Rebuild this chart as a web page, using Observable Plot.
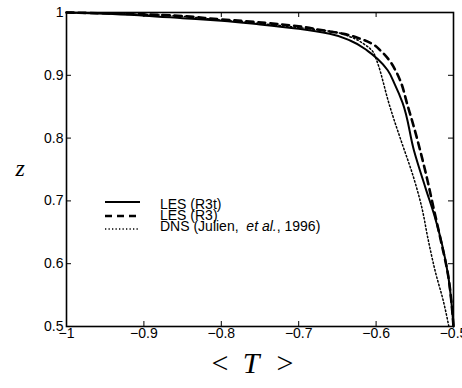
<!DOCTYPE html>
<html>
<head>
<meta charset="utf-8">
<script src="https://cdn.jsdelivr.net/npm/d3@7"></script>
<script src="https://cdn.jsdelivr.net/npm/@observablehq/plot@0.6"></script>
<style>
  html, body { margin: 0; padding: 0; background: #fff; }
  svg { display: block; }
</style>
</head>
<body>
<div id="chart"></div>
<script>
// ---- data ----
const lesR3tT = [-1, -0.95, -0.9, -0.85, -0.8, -0.75, -0.7, -0.66, -0.633, -0.611, -0.598, -0.585, -0.576, -0.566, -0.551, -0.536, -0.524, -0.515, -0.507, -0.502, -0.5];
const lesR3tZ = [1, 0.998, 0.995, 0.991, 0.987, 0.981, 0.974, 0.966, 0.955, 0.939, 0.926, 0.908, 0.886, 0.857, 0.78, 0.72, 0.674, 0.632, 0.582, 0.53, 0.5];

const lesR3T = [-1, -0.9, -0.8, -0.7, -0.671, -0.642, -0.62, -0.605, -0.594, -0.583, -0.575, -0.568, -0.56, -0.551, -0.543, -0.535, -0.526, -0.516, -0.507, -0.502, -0.5];
const lesR3Z = [1, 0.997, 0.989, 0.978, 0.972, 0.966, 0.958, 0.95, 0.939, 0.924, 0.908, 0.889, 0.855, 0.817, 0.78, 0.74, 0.69, 0.635, 0.582, 0.53, 0.5];

const dnsT = [-1, -0.9, -0.8, -0.7, -0.654, -0.633, -0.616, -0.605, -0.6, -0.596, -0.591, -0.585, -0.577, -0.568, -0.551, -0.541, -0.533, -0.523, -0.513, -0.506];
const dnsZ = [1, 0.997, 0.988, 0.976, 0.969, 0.961, 0.95, 0.939, 0.926, 0.912, 0.89, 0.862, 0.83, 0.797, 0.735, 0.69, 0.64, 0.585, 0.54, 0.5];

const seriesNames = ["LES (R3t)", "LES (R3)", "DNS (Julien,  et al., 1996)"];
const xTicks = [-1, -0.9, -0.8, -0.7, -0.6, -0.5];
const yTicks = [0.5, 0.6, 0.7, 0.8, 0.9, 1];
const xTickLabels = ["\u22121", "\u22120.9", "\u22120.8", "\u22120.7", "\u22120.6", "\u22120.5"];
const yTickLabels = ["0.5", "0.6", "0.7", "0.8", "0.9", "1"];

// ---- build tables ----
const toRows = (xs, ys) => xs.map((t, i) => ({T: t, z: ys[i]}));
const rowsR3t = toRows(lesR3tT, lesR3tZ);
const rowsR3 = toRows(lesR3T, lesR3Z);
const rowsDNS = toRows(dnsT, dnsZ);

const W = 462, H = 388;
const mL = 66, mR = 9, mT = 12, mB = 62;
const fw = W - mL - mR, fh = H - mT - mB;
const tickLen = 5;
const font = "'Liberation Sans', Arial, Helvetica, sans-serif";
const serif = "'Liberation Serif', 'Times New Roman', serif";

const chart = Plot.plot({
  width: W,
  height: H,
  marginLeft: mL,
  marginRight: mR,
  marginTop: mT,
  marginBottom: mB,
  style: {fontFamily: font, fontSize: "14px", color: "#000", background: "#fff", overflow: "visible"},
  x: {domain: [-1, -0.5], ticks: xTicks, tickFormat: d => xTickLabels[xTicks.indexOf(d)], tickSize: 0, tickPadding: 2, label: null},
  y: {domain: [0.5, 1], ticks: yTicks, tickFormat: d => yTickLabels[yTicks.indexOf(d)], tickSize: 0, tickPadding: 3, label: null},
  marks: [
    // inward ticks on all four sides
    Plot.tickX(xTicks, {x: d => d, insetBottom: fh - tickLen, stroke: "#000", strokeWidth: 1}),
    Plot.tickX(xTicks, {x: d => d, insetTop: fh - tickLen, stroke: "#000", strokeWidth: 1}),
    Plot.tickY(yTicks, {y: d => d, insetRight: fw - tickLen, stroke: "#000", strokeWidth: 1}),
    Plot.tickY(yTicks, {y: d => d, insetLeft: fw - tickLen, stroke: "#000", strokeWidth: 1}),
    // curves
    Plot.line(rowsDNS, {x: "T", y: "z", stroke: "#000", strokeWidth: 1.5, strokeDasharray: "1.5,2.3", curve: "monotone-y"}),
    Plot.line(rowsR3, {x: "T", y: "z", stroke: "#000", strokeWidth: 2.6, strokeDasharray: "7,5", curve: "monotone-y"}),
    Plot.line(rowsR3t, {x: "T", y: "z", stroke: "#000", strokeWidth: 2, curve: "monotone-y"}),
    Plot.frame({stroke: "#000", strokeWidth: 1.6}),
    // axis titles
    Plot.text(["z"], {text: d => d, frameAnchor: "left", dx: -51, dy: -1, fontFamily: serif, fontStyle: "italic", fontSize: 24}),
    Plot.text(["<"], {text: d => d, frameAnchor: "bottom", dx: -40, dy: 46, fontFamily: serif, fontSize: 30}),
    Plot.text(["T"], {text: d => d, frameAnchor: "bottom", dx: -9, dy: 46, fontFamily: serif, fontStyle: "italic", fontSize: 30}),
    Plot.text([">"], {text: d => d, frameAnchor: "bottom", dx: 25, dy: 46, fontFamily: serif, fontSize: 30})
  ]
});

// ---- legend (inside the plot area) ----
const svg = d3.select(chart.tagName.toLowerCase() === "svg" ? chart : chart.querySelector("svg"));
const legend = svg.append("g").attr("class", "legend").attr("text-anchor", "start");
const legendStyles = [
  {w: 2, dash: null},
  {w: 2.6, dash: "7,5"},
  {w: 1.3, dash: "1.3,2.2"}
];
const lineYs = [202, 216, 229];
const textYs = [209, 220, 231];
seriesNames.forEach((name, i) => {
  legend.append("line")
    .attr("x1", 105).attr("x2", 140)
    .attr("y1", lineYs[i]).attr("y2", lineYs[i])
    .attr("stroke", "#000")
    .attr("stroke-width", legendStyles[i].w)
    .attr("stroke-dasharray", legendStyles[i].dash);
  const t = legend.append("text")
    .attr("x", 160).attr("y", textYs[i])
    .attr("text-anchor", "start")
    .attr("font-family", font).attr("font-size", 14).attr("fill", "#000");
  if (i === 2) {
    t.append("tspan").text("DNS (Julien,  ");
    t.append("tspan").attr("font-style", "italic").text("et al.");
    t.append("tspan").text(", 1996)");
  } else {
    t.text(name);
  }
});

document.getElementById("chart").appendChild(chart);
</script>
</body>
</html>
